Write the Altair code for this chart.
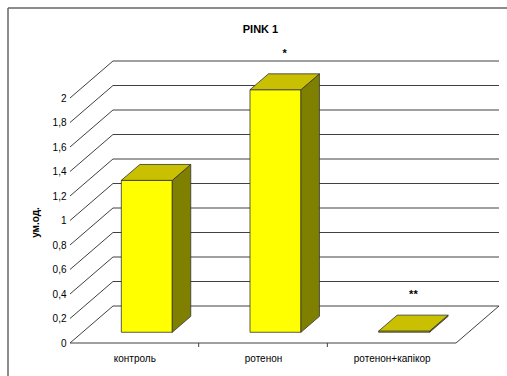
import json
import altair as alt
import pandas as pd

# ---------------- data ----------------
categories = ["контроль", "ротенон", "ротенон+капікор"]
values = [1.24, 1.98, 0.01]
marks = ["", "*", "**"]
y_ticks = [0, 0.2, 0.4, 0.6, 0.8, 1.0, 1.2, 1.4, 1.6, 1.8, 2.0]

# ---------------- 3D geometry (scale units) ----------------
N = len(categories)
DX = 0.334   # depth offset along x (category units)
DY = 0.302   # depth offset along y (value units)
F0, F1 = 0.29, 0.72  # bar front / back position in depth
BW = 0.396   # bar width
DD = F1 - F0
W, H = 429, 283
XMAX = N + DX
YMAX = H / 122.5

FONT = "Liberation Sans"
LINE = "#404040"

xs = alt.Scale(domain=[0, XMAX], nice=False, zero=False)
ys = alt.Scale(domain=[0, YMAX], nice=False, zero=False)

cat_js = json.dumps(categories, ensure_ascii=False)
x_axis = alt.Axis(values=[i + 0.5 for i in range(N)],
                  labelExpr=f"{cat_js}[floor(datum.value)]",
                  ticks=False, domain=False, grid=False, labelPadding=10,
                  labelFontSize=10, labelColor="black", labelFont=FONT,
                  title=None)
y_axis = alt.Axis(values=y_ticks,
                  labelExpr="replace(format(datum.value, '.1~f'), '.', ',')",
                  ticks=False, domain=False, grid=False, labelPadding=4,
                  labelFontSize=10, labelColor="black", labelFont=FONT,
                  title="ум.од.", titleFontWeight="bold", titleFontSize=10,
                  titleFont=FONT, titleColor="black",
                  titleX=-35, titleY=162, titleAngle=270,
                  titleAlign="center", titleBaseline="middle")


def X(f):
    return alt.X(f, type="quantitative", scale=xs, axis=x_axis)


def Y(f):
    return alt.Y(f, type="quantitative", scale=ys, axis=y_axis)


# grid / floor lines
rows = []
for v in y_ticks:
    rows.append({"x": DX, "x2": N + DX, "y": v + DY, "y2": v + DY})   # back wall
    rows.append({"x": 0, "x2": DX, "y": v, "y2": v + DY})             # side wall
rows.append({"x": 0, "x2": N, "y": 0, "y2": 0})                       # floor front
rows.append({"x": N, "x2": N + DX, "y": 0, "y2": DY})                 # floor right
lines_df = pd.DataFrame(rows)

grid = alt.Chart(lines_df).mark_rule(color=LINE, strokeWidth=1).encode(
    x=X("x"), x2="x2", y=Y("y"), y2="y2")

ticks_df = pd.DataFrame({"x": list(range(1, N))})
cat_ticks = alt.Chart(ticks_df).mark_rule(color=LINE, strokeWidth=1).encode(
    x=X("x"), y=alt.value(H), y2=alt.value(H + 4))

# bars
front_rows, side_rows, top_rows, lab_rows = [], [], [], []
for i, (c, v, m) in enumerate(zip(categories, values, marks)):
    xl = i + 0.5 - BW / 2 + F0 * DX
    xr = xl + BW
    yb = F0 * DY
    yt = yb + v
    front_rows.append({"bar": i, "xl": xl, "xr": xr, "yb": yb, "yt": yt})
    side_rows.append({"bar": i, "x": xr, "lo": yb, "hi": yt})
    side_rows.append({"bar": i, "x": xr + DD * DX, "lo": yb + DD * DY, "hi": yt + DD * DY})
    top_rows.append({"bar": i, "y": yt, "x": xl, "x2": xr})
    top_rows.append({"bar": i, "y": yt + DD * DY, "x": xl + DD * DX, "x2": xr + DD * DX})
    lab_rows.append({"x": (xl + xr) / 2 + DD * DX / 2, "y": yt + DD * DY, "t": m})

front = alt.Chart(pd.DataFrame(front_rows)).mark_rect(
    color="#FFFF00", stroke="#333333", strokeWidth=0.8).encode(
    x=X("xl"), x2="xr", y=Y("yb"), y2="yt")

side = alt.Chart(pd.DataFrame(side_rows)).mark_area(
    color="#808000", stroke="#333333", strokeWidth=0.8, opacity=1).encode(
    x=X("x"), y=Y("lo"), y2="hi", detail="bar:N")

top = alt.Chart(pd.DataFrame(top_rows)).mark_area(
    orient="horizontal", color="#C8C000", stroke="#333333", strokeWidth=0.8,
    opacity=1).encode(
    y=Y("y"), x=X("x"), x2="x2", detail="bar:N")

labels = alt.Chart(pd.DataFrame(lab_rows)).mark_text(
    fontSize=11, fontWeight="bold", font=FONT, color="black", dy=-20).encode(
    x=X("x"), y=Y("y"), text="t:N")

one = pd.DataFrame({"a": [0]})
border_top = alt.Chart(one).mark_rule(color="#666666", strokeWidth=1.5).encode(
    x=alt.value(-62), x2=alt.value(507 - 70), y=alt.value(-52))
border_left = alt.Chart(one).mark_rule(color="#666666", strokeWidth=1.5).encode(
    x=alt.value(-62), y=alt.value(-52), y2=alt.value(376 - 60))

chart = alt.layer(
    grid, cat_ticks, front, side, top, labels, border_top, border_left
).properties(
    width=W, height=H,
    title=alt.TitleParams("PINK 1", fontSize=11, fontWeight="bold", font=FONT,
                          color="black", anchor="middle", dx=-24, offset=-28),
    autosize=alt.AutoSizeParams(type="none"),
    padding={"left": 70, "top": 60, "right": 8, "bottom": 33},
    background="white",
).configure_view(stroke=None)

chart.save("out.html", embed_options={"renderer": "svg", "actions": False})
